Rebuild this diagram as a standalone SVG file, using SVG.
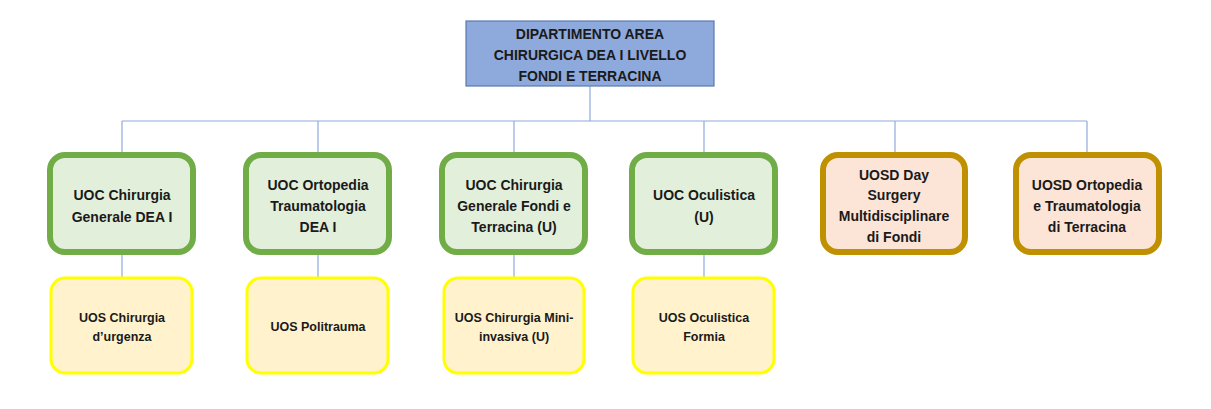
<svg xmlns="http://www.w3.org/2000/svg" width="1211" height="409" viewBox="0 0 1211 409">
<style>
text{font-family:"Liberation Sans",Arial,sans-serif;font-weight:bold;fill:#1a1a1a;text-anchor:middle}
.t{font-size:14px}
.s{font-size:12.5px}
.top{fill:#8EA9DB;stroke:#5B7BAF;stroke-width:1.2}
.g{fill:#E2EFDA;stroke:#70AD47;stroke-width:6}
.b{fill:#FCE4D6;stroke:#BF9000;stroke-width:6}
.y{fill:#FFF2CC;stroke:#FFFF00;stroke-width:3}
.c{fill:none;stroke:#8FAADC;stroke-width:1.2}
</style>
<rect width="1211" height="409" fill="#fff"/>
<g id="connectors">
<path class="c" d="M590 86V121M122 121H1087M122 121V155M318 121V155M514 121V155M704 121V155M895 121V155M1087 121V155"/>
<path class="c" d="M122 252V277M318 252V277M514 252V277M704 252V277"/>
</g>
<g id="n0"><rect class="top" x="466" y="21" width="248" height="65"/>
<text class="t" x="590" y="39">DIPARTIMENTO AREA</text>
<text class="t" x="590" y="60">CHIRURGICA DEA I LIVELLO</text>
<text class="t" x="590" y="81">FONDI E TERRACINA</text></g>
<g id="n1"><rect class="g" x="50" y="155" width="143" height="97" rx="15"/>
<text class="t" x="122" y="200">UOC Chirurgia</text>
<text class="t" x="122" y="222">Generale DEA I</text></g>
<g id="n2"><rect class="g" x="246" y="155" width="143" height="97" rx="15"/>
<text class="t" x="318" y="190">UOC Ortopedia</text>
<text class="t" x="318" y="211">Traumatologia</text>
<text class="t" x="318" y="232">DEA I</text></g>
<g id="n3"><rect class="g" x="442" y="155" width="143" height="97" rx="15"/>
<text class="t" x="514" y="190">UOC Chirurgia</text>
<text class="t" x="514" y="211">Generale Fondi e</text>
<text class="t" x="514" y="232">Terracina (U)</text></g>
<g id="n4"><rect class="g" x="632" y="155" width="143" height="97" rx="15"/>
<text class="t" x="704" y="200">UOC Oculistica</text>
<text class="t" x="704" y="222">(U)</text></g>
<g id="n5"><rect class="b" x="823" y="155" width="142" height="97" rx="15"/>
<text class="t" x="894" y="180">UOSD Day</text>
<text class="t" x="894" y="200">Surgery</text>
<text class="t" x="894" y="221">Multidisciplinare</text>
<text class="t" x="894" y="242">di Fondi</text></g>
<g id="n6"><rect class="b" x="1016" y="155" width="143" height="97" rx="15"/>
<text class="t" x="1087" y="190">UOSD Ortopedia</text>
<text class="t" x="1087" y="211">e Traumatologia</text>
<text class="t" x="1087" y="232">di Terracina</text></g>
<g id="n7"><rect class="y" x="51" y="278" width="141" height="95" rx="14"/>
<text class="s" x="122" y="322">UOS Chirurgia</text>
<text class="s" x="122" y="341">d’urgenza</text></g>
<g id="n8"><rect class="y" x="247" y="278" width="141" height="95" rx="14"/>
<text class="s" x="318" y="331">UOS Politrauma</text></g>
<g id="n9"><rect class="y" x="444" y="278" width="140" height="95" rx="14"/>
<text class="s" x="514" y="322">UOS Chirurgia Mini-</text>
<text class="s" x="514" y="341">invasiva (U)</text></g>
<g id="n10"><rect class="y" x="633" y="278" width="141" height="95" rx="14"/>
<text class="s" x="704" y="322">UOS Oculistica</text>
<text class="s" x="704" y="341">Formia</text></g>
</svg>
